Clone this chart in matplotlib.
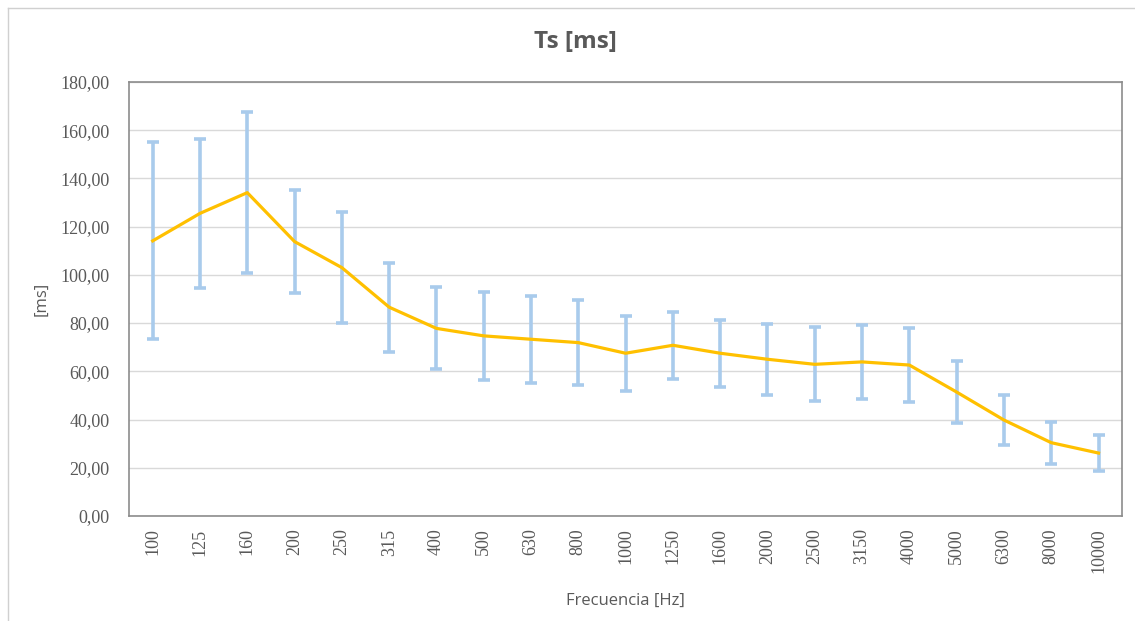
import matplotlib
matplotlib.use("Agg")
import matplotlib.pyplot as plt
from matplotlib.lines import Line2D

# values
frecuencias = ["100", "125", "160", "200", "250", "315", "400", "500", "630", "800",
               "1000", "1250", "1600", "2000", "2500", "3150", "4000", "5000", "6300",
               "8000", "10000"]
ts_media = [114.1, 125.5, 134.1, 113.8, 103.0, 86.6, 77.8, 74.7, 73.3, 71.9,
            67.5, 70.8, 67.5, 65.0, 62.9, 63.9, 62.6, 51.4, 39.8, 30.4, 26.1]
ts_desv = [40.8, 31.0, 33.5, 21.2, 23.1, 18.5, 17.0, 18.3, 18.1, 17.7,
           15.6, 13.9, 13.9, 14.7, 15.3, 15.4, 15.3, 12.7, 10.4, 8.7, 7.4]
y_ticks = [0, 20, 40, 60, 80, 100, 120, 140, 160, 180]

gris = "#595959"

fig = plt.figure(figsize=(11.35, 6.21), dpi=100)
ax = fig.add_axes([0.1137, 0.1691, 0.875, 0.6989])

x = list(range(len(frecuencias)))
ax.errorbar(x, ts_media, yerr=ts_desv, fmt="none", ecolor="#A9CBEC",
            elinewidth=2.6, capsize=4.5, capthick=2.6, zorder=2)
ax.plot(x, ts_media, color="#FFC000", linewidth=2.3, zorder=3)

ax.set_xlim(-0.5, len(frecuencias) - 0.5)
ax.set_ylim(0, 180)
ax.set_yticks(y_ticks)
ax.set_yticklabels([f"{v:.2f}".replace(".", ",") for v in y_ticks],
                   family="Liberation Serif", fontsize=13, color=gris)
ax.set_xticks(x)
ax.set_xticklabels(frecuencias, rotation=90, family="Liberation Serif",
                   fontsize=13, color=gris)
ax.tick_params(axis="x", length=0, pad=9)
ax.tick_params(axis="y", length=0, pad=14)
ax.grid(axis="y", color="#D9D9D9", linewidth=1)
ax.set_axisbelow(True)
for s in ax.spines.values():
    s.set_color("#8C8C8C")
    s.set_linewidth(1.2)

ax.set_xlabel("Frecuencia [Hz]", family="Open Sans", fontsize=12, color=gris, labelpad=14)
ax.set_ylabel("[ms]", family="Open Sans", fontsize=12, color=gris, labelpad=8)
fig.text(0.507, 0.932, "Ts [ms]", family="Open Sans", fontsize=17.5, fontweight="bold",
         color=gris, ha="center", va="center")

# outer chart frame (only left and top visible in the reference)
fig.add_artist(Line2D([8 / 1135, 8 / 1135], [0, 1 - 8 / 621], transform=fig.transFigure,
                      color="#D0D0D0", linewidth=1))
fig.add_artist(Line2D([8 / 1135, 1], [1 - 8 / 621, 1 - 8 / 621], transform=fig.transFigure,
                      color="#D0D0D0", linewidth=1))

plt.savefig("out.png", dpi=100)
